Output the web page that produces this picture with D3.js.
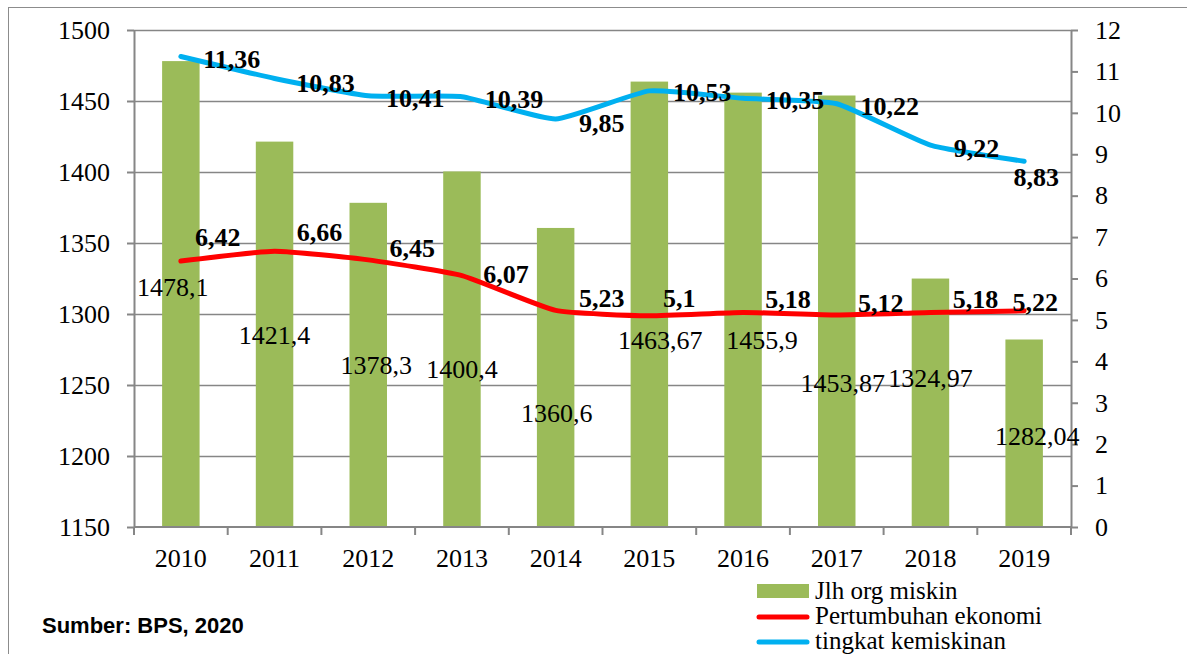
<!DOCTYPE html>
<html>
<head>
<meta charset="utf-8">
<script src="https://cdn.jsdelivr.net/npm/d3@7"></script>
<style>
  body { margin: 0; background: #fff; }
  svg text { font-family: "Times New Roman", "Liberation Serif", "DejaVu Serif", serif; fill: #000; }
</style>
</head>
<body>
<div id="chart"></div>
<script>
// Data
const years = ['2010', '2011', '2012', '2013', '2014', '2015', '2016', '2017', '2018', '2019'];
const poorPeople = [1478.1, 1421.4, 1378.3, 1400.4, 1360.6, 1463.67, 1455.9, 1453.87, 1324.97, 1282.04];
const growth = [6.42, 6.66, 6.45, 6.07, 5.23, 5.1, 5.18, 5.12, 5.18, 5.22];
const povertyRate = [11.36, 10.83, 10.41, 10.39, 9.85, 10.53, 10.35, 10.22, 9.22, 8.83];
const leftTicks = [1150, 1200, 1250, 1300, 1350, 1400, 1450, 1500];
const rightTicks = [0, 1, 2, 3, 4, 5, 6, 7, 8, 9, 10, 11, 12];
const seriesNames = ['Jlh org miskin', 'Pertumbuhan ekonomi', 'tingkat kemiskinan'];
const sourceNote = 'Sumber: BPS, 2020';

// Label placement tweaks (pixel offsets from the mark), as hand-placed in the original
const barLabelDx = [-8, 0, 8, 0, 1, 11, 19, 6, 0, 13];
const barLabelDy = [226, 193, 162, 197, 185, 258, 247, 287, 99, 96];
const blueLabelDx = [51, 51, 47, 52, 46, 53, 52, 53, 46, 12];
const blueLabelDy = [2, 4, 2, 2, 4, 1, 2, 2, 3, 16];
const redLabelDx = [37, 45, 44, 44, 46, 30, 45, 44, 45, 11];
const redLabelDy = [-24, -19, -12, -2, -12, -18, -14, -12, -14, -9];

const W = 1187, H = 654;
const margin = { top: 30, right: 116, bottom: 127, left: 134 };
const width = W - margin.left - margin.right;
const height = H - margin.top - margin.bottom;
const axisColor = '#868686';
const serif = '"Times New Roman", "Liberation Serif", "DejaVu Serif", serif';
const fontSize = '26px';

const svg = d3.select('#chart').append('svg')
    .attr('width', W)
    .attr('height', H)
    .attr('font-family', serif);

// Outer frame
svg.append('rect')
    .attr('x', 8.5).attr('y', 7.5)
    .attr('width', W + 20).attr('height', H + 20)
    .attr('fill', 'none')
    .attr('stroke', '#8c8c8c')
    .attr('stroke-width', 1);

const g = svg.append('g')
    .attr('transform', `translate(${margin.left},${margin.top})`);

// Scales
const x = d3.scaleBand().domain(years).range([0, width]).paddingInner(0.6).paddingOuter(0.3);
const xc = d => x(d) + x.bandwidth() / 2;
const yLeft = d3.scaleLinear().domain([1150, 1500]).range([height, 0]);
const yRight = d3.scaleLinear().domain([0, 12]).range([height, 0]);

// Grid lines
g.append('g')
    .selectAll('line')
    .data(leftTicks.slice(1))
    .enter()
    .append('line')
    .attr('x1', 0).attr('x2', width)
    .attr('y1', d => Math.round(yLeft(d)) + 0.5)
    .attr('y2', d => Math.round(yLeft(d)) + 0.5)
    .attr('stroke', axisColor)
    .attr('stroke-width', 1.5);

// Bars
g.append('g')
    .selectAll('rect')
    .data(poorPeople)
    .enter()
    .append('rect')
    .attr('x', (d, i) => x(years[i]))
    .attr('y', d => yLeft(d))
    .attr('width', x.bandwidth())
    .attr('height', d => height - yLeft(d))
    .attr('fill', '#9BBB59');

// Axes
function styleAxis(sel) {
    sel.attr('font-family', serif).attr('font-size', 26);
    sel.select('.domain').attr('stroke', axisColor).attr('stroke-width', 2);
    sel.selectAll('.tick line').attr('stroke', axisColor).attr('stroke-width', 2);
    sel.selectAll('text').attr('fill', '#000');
}

g.append('g')
    .call(d3.axisLeft(yLeft).tickValues(leftTicks).tickFormat(d3.format('d'))
        .tickSize(7).tickSizeOuter(0).tickPadding(17))
    .call(styleAxis);

g.append('g')
    .attr('transform', `translate(${width},0)`)
    .call(d3.axisRight(yRight).tickValues(rightTicks).tickFormat(d3.format('d'))
        .tickSize(7).tickSizeOuter(0).tickPadding(17))
    .call(styleAxis);

// X axis with ticks at category boundaries
const xAxis = g.append('g').attr('transform', `translate(0,${height})`);
xAxis.append('line')
    .attr('x1', 0).attr('x2', width)
    .attr('stroke', axisColor).attr('stroke-width', 2);
const boundaries = d3.range(years.length + 1).map(i => i * width / years.length);
xAxis.selectAll('.xtick')
    .data(boundaries)
    .enter()
    .append('line')
    .attr('x1', d => d).attr('x2', d => d)
    .attr('y1', 0).attr('y2', 8)
    .attr('stroke', axisColor).attr('stroke-width', 2);
xAxis.selectAll('.xlabel')
    .data(years)
    .enter()
    .append('text')
    .attr('x', d => xc(d))
    .attr('y', 40)
    .attr('text-anchor', 'middle')
    .style('font-size', fontSize)
    .text(d => d);

// Lines
const line = d3.line()
    .x((d, i) => xc(years[i]))
    .y(d => yRight(d))
    .curve(d3.curveCardinal.tension(0.55));

g.append('path')
    .datum(growth)
    .attr('d', line)
    .attr('fill', 'none')
    .attr('stroke', '#FF0000')
    .attr('stroke-width', 5)
    .attr('stroke-linecap', 'round')
    .attr('stroke-linejoin', 'round');

g.append('path')
    .datum(povertyRate)
    .attr('d', line)
    .attr('fill', 'none')
    .attr('stroke', '#00B0F0')
    .attr('stroke-width', 5)
    .attr('stroke-linecap', 'round')
    .attr('stroke-linejoin', 'round');

// Bar labels
g.append('g')
    .selectAll('text')
    .data(poorPeople)
    .enter()
    .append('text')
    .attr('x', (d, i) => xc(years[i]) + barLabelDx[i])
    .attr('y', (d, i) => yLeft(d) + barLabelDy[i])
    .attr('dy', '0.35em')
    .attr('text-anchor', 'middle')
    .style('font-size', fontSize)
    .text(d => String(d).replace('.', ','));

// Line labels
function lineLabels(values, dxs, dys) {
    g.append('g')
        .selectAll('text')
        .data(values)
        .enter()
        .append('text')
        .attr('x', (d, i) => xc(years[i]) + dxs[i])
        .attr('y', (d, i) => yRight(d) + dys[i])
        .attr('dy', '0.35em')
        .attr('text-anchor', 'middle')
        .style('font-size', fontSize)
        .style('font-weight', 'bold')
        .text(d => String(d).replace('.', ','));
}
lineLabels(povertyRate, blueLabelDx, blueLabelDy);
lineLabels(growth, redLabelDx, redLabelDy);

// Legend
const legend = svg.append('g').attr('transform', 'translate(757, 584)');
legend.append('rect')
    .attr('width', 52).attr('height', 14)
    .attr('fill', '#9BBB59');
[['#FF0000', 33], ['#00B0F0', 58]].forEach(([c, yy]) => {
    legend.append('line')
        .attr('x1', 2).attr('x2', 50)
        .attr('y1', yy).attr('y2', yy)
        .attr('stroke', c)
        .attr('stroke-width', 5)
        .attr('stroke-linecap', 'round');
});
seriesNames.forEach((name, i) => {
    legend.append('text')
        .attr('x', 58)
        .attr('y', 15 + i * 25)
        .style('font-size', '25px')
        .text(name);
});

// Source note
svg.append('text')
    .attr('x', 42)
    .attr('y', 633)
    .style('font-family', '"Liberation Sans", Arial, sans-serif')
    .style('font-weight', 'bold')
    .style('font-size', '22px')
    .text(sourceNote);
</script>
</body>
</html>
